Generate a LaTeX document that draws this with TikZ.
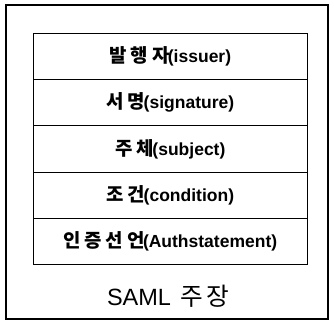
\documentclass[tikz,border=0pt]{standalone}
\usepackage{fontspec}
\setmainfont{Liberation Sans}
\newfontfamily\kr{Noto Sans CJK KR}[Scale=1.08,LetterSpace=20]
\newfontfamily\krw{Noto Sans CJK KR}[Scale=1.05,LetterSpace=12]
\begin{document}
\begin{tikzpicture}[x=1pt,y=-1pt,
  field/.style={draw=black,line width=0.8pt,minimum width=274pt,minimum height=46.2pt,inner sep=0pt,anchor=north west,font=\fontsize{17.5}{19}\selectfont\bfseries},
  frame/.style={draw=black,line width=1.6pt}]
\useasboundingbox (0,0) rectangle (334,324);
\draw[frame] (6,5) rectangle (328,319);
\node[field] (f1) at (33,33) {{\kr 발행자}\hspace{-1.5pt}(issuer)};
\node[field] (f2) at (33,79.2) {{\kr 서명}\hspace{-1.5pt}(signature)};
\node[field] (f3) at (33,125.4) {{\kr 주체}\hspace{-1.5pt}(subject)};
\node[field] (f4) at (33,171.6) {{\kr 조건}\hspace{-1.5pt}(condition)};
\node[field] (f5) at (33,217.8) {{\kr 인증선언}\hspace{-1.5pt}(Authstatement)};
\node[font=\fontsize{23.5}{26}\selectfont] (t) at (168,296) {SAML\hspace{3pt} {\krw 주장}};
\end{tikzpicture}
\end{document}
